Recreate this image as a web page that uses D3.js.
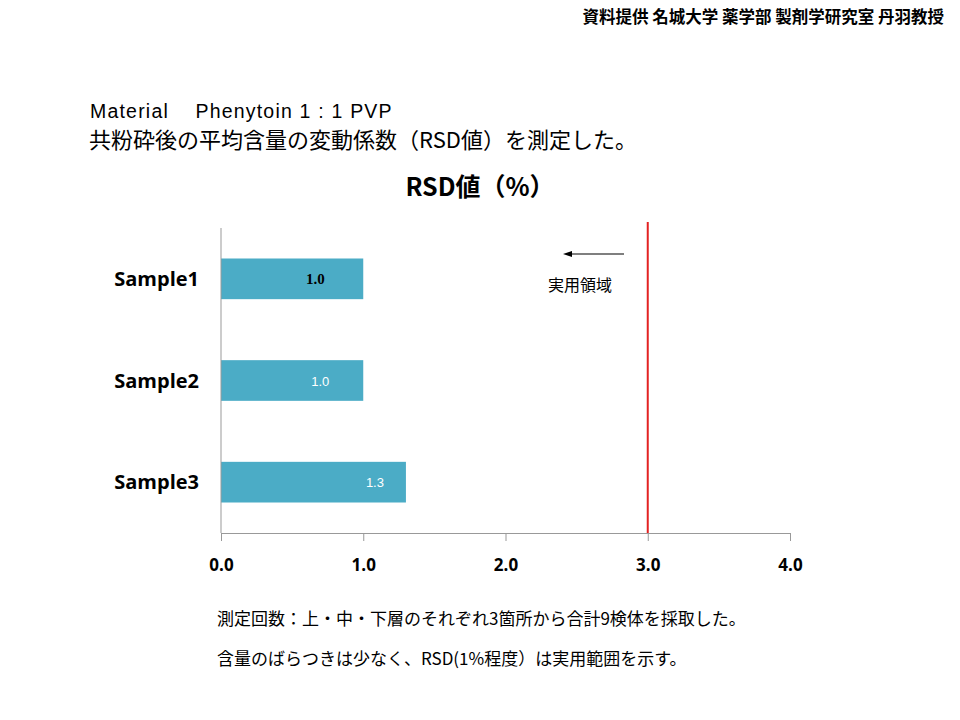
<!DOCTYPE html>
<html><head><meta charset="utf-8">
<script src="https://cdn.jsdelivr.net/npm/d3@7"></script>
<style>body{margin:0;background:#fff}svg{display:block}</style>
</head><body>
<script>
const categories = ["Sample1","Sample2","Sample3"];
const values = [1.0, 1.0, 1.3];
const valueLabels = ["1.0","1.0","1.3"];
const xTicks = [0,1,2,3,4];
const limitValue = 3.0;

const W=960,H=720;
const svg=d3.select("body").append("svg").attr("width",W).attr("height",H);
const jp="'Noto Sans CJK JP','Noto Sans',sans-serif";

const x=d3.scaleLinear().domain([0,4]).range([221,790]);
const y=d3.scaleBand().domain(categories).range([228,533]).paddingInner(0.6).paddingOuter(0.3);

// header
svg.append("text").attr("x",944).attr("y",23).attr("text-anchor","end")
 .attr("font-family",jp).attr("font-weight","bold").attr("font-size",16.5).text("資料提供 名城大学 薬学部 製剤学研究室 丹羽教授");
svg.append("text").attr("x",90).attr("y",118).attr("font-family","'Liberation Sans',Arial,sans-serif").attr("font-size",19.5).attr("letter-spacing",1.2).text("Material\u00a0\u00a0\u00a0\u00a0Phenytoin 1 : 1 PVP");
svg.append("text").attr("x",89).attr("y",148).attr("font-family",jp).attr("font-size",22).text("共粉砕後の平均含量の変動係数（RSD値）を測定した。");
svg.append("text").attr("x",480).attr("y",196).attr("text-anchor","middle").attr("font-family",jp).attr("font-weight","bold").attr("font-size",25).text("RSD値（%）");

// bars
svg.selectAll("rect.bar").data(categories).enter().append("rect")
 .attr("x",x(0)).attr("y",d=>y(d)).attr("height",y.bandwidth())
 .attr("width",(d,i)=>x(values[i])-x(0)).attr("fill","#4BACC6");

// value labels
svg.selectAll("text.val").data(categories).enter().append("text")
 .attr("x",(d,i)=>x(values[i])-(i===0?48:i===1?43:31)).attr("y",d=>y(d)+y.bandwidth()/2+5)
 .attr("text-anchor","middle")
 .attr("font-family",(d,i)=>i===0?"'Liberation Serif',serif":"'Liberation Sans',sans-serif")
 .attr("font-weight",(d,i)=>i===0?"bold":"normal")
 .attr("font-size",(d,i)=>i===0?15:13)
 .attr("fill",(d,i)=>i===0?"#000":"#fff")
 .text((d,i)=>valueLabels[i]);

// y axis line
svg.append("line").attr("x1",x(0)).attr("x2",x(0)).attr("y1",228).attr("y2",533).attr("stroke","#999").attr("stroke-width",1);
// category labels
svg.selectAll("text.cat").data(categories).enter().append("text")
 .attr("x",199).attr("y",d=>y(d)+y.bandwidth()/2+7).attr("text-anchor","end")
 .attr("font-family","'Open Sans',sans-serif").attr("font-weight","bold").attr("font-size",20).text(d=>d);

// x axis
const ax=svg.append("g").attr("transform","translate(0,533)")
 .call(d3.axisBottom(x).tickValues(xTicks).tickFormat(d3.format(".1f")).tickSize(8).tickPadding(18));
ax.select(".domain").attr("stroke","#999");
ax.selectAll(".tick line").attr("stroke","#999");
ax.selectAll(".tick text").attr("font-family","'Open Sans',sans-serif").attr("font-weight","bold").attr("font-size",17).attr("fill","#000");

// limit line
svg.append("line").attr("x1",x(limitValue)).attr("x2",x(limitValue)).attr("y1",222).attr("y2",533).attr("stroke","#E32222").attr("stroke-width",2);

// arrow
svg.append("line").attr("x1",624).attr("x2",571).attr("y1",254).attr("y2",254).attr("stroke","#000").attr("stroke-width",1.2);
svg.append("path").attr("d","M563,254L572,251L572,257z").attr("fill","#000");
svg.append("text").attr("x",548).attr("y",291).attr("font-family",jp).attr("font-size",16).text("実用領域");

// notes
svg.append("text").attr("x",217).attr("y",625).attr("font-family",jp).attr("font-size",17).text("測定回数：上・中・下層のそれぞれ3箇所から合計9検体を採取した。");
svg.append("text").attr("x",217).attr("y",665).attr("font-family",jp).attr("font-size",17).text("含量のばらつきは少なく、RSD(1%程度）は実用範囲を示す。");
</script>
</body></html>
